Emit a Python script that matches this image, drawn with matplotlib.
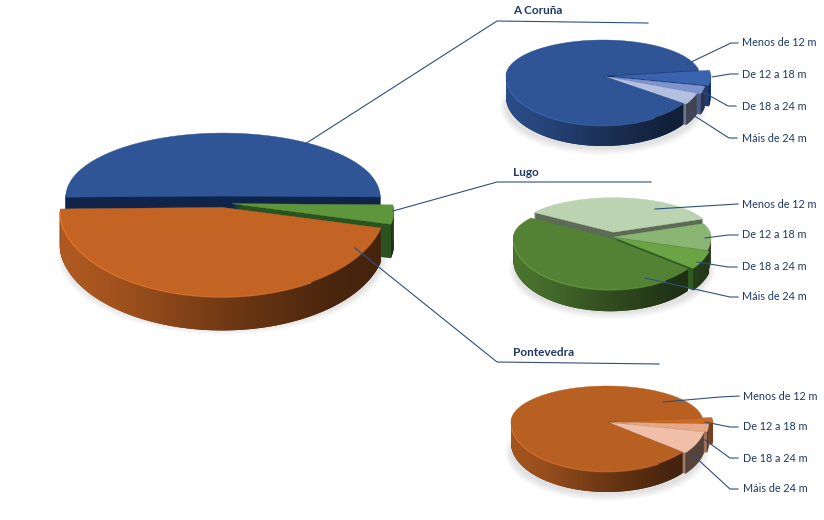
import matplotlib
matplotlib.use('Agg')
import matplotlib.pyplot as plt
import numpy as np
from matplotlib.colors import to_rgb
from matplotlib.patches import Ellipse, Polygon

plt.rcParams['font.family'] = ['Lato', 'DejaVu Sans']

categories = ['Menos de 12 m', 'De 12 a 18 m', 'De 18 a 24 m', 'Máis de 24 m']
provinces = ['A Coruña', 'Lugo', 'Pontevedra']

# share of each province (big pie), clockwise from the blue slice's far end
province_values = [50.5, 3.5, 46.0]
coruna_values = [88.0, 5.6, 2.5, 3.9]
lugo_values = [34.0, 10.5, 6.0, 49.5]
pontevedra_values = [87.5, 2.5, 2.5, 7.5]

INK = '#1f3864'
LINE = '#2f4f7f'

fig, ax = plt.subplots(figsize=(8.24, 5.2), dpi=100)
ax.set_position([0, 0, 1, 1])
layer = [2]


def next_z():
    layer[0] += 1
    return layer[0]


def draw_pie(values, start, cx, cy, rx, back, front, depth, explode, tops, walls, order, widen=0.0):
    wedges, _ = ax.pie(values, startangle=start, counterclock=False, explode=explode, radius=1)
    # soft shadow under the disc
    for grow in range(5):
        ax.add_patch(Ellipse((cx, cy + depth + (front - back) / 2 + 3), 2 * rx + grow * 3,
                             front + back + grow * 3, color='#000000', alpha=0.022, lw=0, zorder=1))

    def warp(x, y):
        # near half is drawn a bit larger than the far half, like the perspective in the picture
        return cx + rx * x * (1 - widen * np.tanh(10 * y)), cy - np.where(y >= 0, y * back, y * front)

    shapes = []
    for w in wedges:
        t = np.radians(np.linspace(w.theta1, w.theta2, 240))
        x0, y0 = w.center
        ax_x, ax_y = x0 + w.r * np.cos(t), y0 + w.r * np.sin(t)
        px, py = warp(ax_x, ax_y)
        ox, oy = warp(np.array([x0]), np.array([y0]))
        shapes.append((px, py, ox[0], oy[0], ax_y))
        w.remove()

    def draw_walls(i):
        px, py, ox, oy, _ = shapes[i]
        xs = np.r_[px, ox]
        ys = np.r_[py, oy]
        for d in range(depth, 0, -1):
            ax.add_patch(Polygon(np.c_[xs, ys + d], fc=walls[i], lw=0, zorder=next_z()))

    draw_walls(order[-1])
    for i in order:
        px, py, ox, oy, uy = shapes[i]
        if i != order[-1]:
            draw_walls(i)
        rgb = np.array(to_rgb(tops[i]))
        # only the part of the rim that faces the viewer gets shaded
        front_part = uy < 0
        if front_part.any():
            # rim shading runs from left to right across the whole disc
            f = np.interp(np.linspace(0, 1, 256), [0, 0.2, 0.5, 0.8, 1], [0.92, 0.82, 0.58, 0.38, 0.34])
            grad = np.clip(f[None, :, None] * rgb, 0, 1)
            im = ax.imshow(grad, extent=(cx - rx * 1.1, cx + rx * 1.1, cy + front * 1.2 + depth, cy - back * 1.2),
                           aspect='auto', interpolation='bilinear', zorder=next_z())
            fx, fy = px[front_part], py[front_part]
            rim = np.r_[np.c_[fx, fy], np.c_[fx[::-1], fy[::-1] + depth]]
            im.set_clip_path(Polygon(rim, transform=ax.transData))
        ax.add_patch(Polygon(np.c_[np.r_[px, ox], np.r_[py, oy]], fc=tops[i], ec=tops[i], lw=0.3, zorder=next_z()))
        # lit bevel on the near edge, left side only
        near = (uy < -0.1) & (px < cx + 0.55 * rx)
        if near.any():
            light = tuple(np.clip(rgb * 1.25 + 0.04, 0, 1))
            ax.plot(px[near], py[near] + 0.6, color=light, lw=1.0, alpha=0.6, zorder=next_z(),
                    solid_capstyle='round')


draw_pie(province_values, 181, 223, 203, 160, 63, 89, 34,
         [0.11, 0.057, 0.05],
         ['#2f5597', '#5d963b', '#c46424'], ['#10244a', '#2c5220', '#5a3010'], [0, 1, 2], widen=0.02)
draw_pie(coruna_values, -34, 603, 76, 97, 36, 49, 21,
         [0, 0.11, 0.07, 0.03],
         ['#2f5597', '#3a64b0', '#7f93cf', '#b4c0e0'], ['#10244a', '#1f3a70', '#4a5a90', '#6c7a90'], [1, 2, 3, 0])
draw_pie(lugo_values, 145, 612, 237, 97, 34.5, 51, 22,
         [0.14, 0.02, 0.04, 0.03],
         ['#bbd3b0', '#8bb573', '#6aa444', '#548235'], ['#5c6b55', '#4f6e3e', '#2f5a20', '#2c4a1c'], [0, 1, 2, 3])
draw_pie(pontevedra_values, -38, 607, 422, 96, 36, 49, 21,
         [0, 0.1, 0.06, 0.03],
         ['#b85f22', '#cc6a25', '#e8a888', '#f1bfa8'], ['#5a3010', '#7a3f14', '#a07058', '#9f7a6b'], [1, 2, 3, 0])

# leader lines
leaders = [
    [(305, 144), (497, 21), (648, 23)],
    [(393, 211), (497, 182), (651, 182)],
    [(355, 248), (497, 362), (659, 364)],
    [(687, 64), (731, 43), (738, 43)],
    [(712, 77), (730, 74), (738, 74)],
    [(703, 92), (728, 106), (736, 106)],
    [(690, 113), (729, 138), (737, 138)],
    [(655, 209), (738, 204)],
    [(705, 238), (728, 235), (738, 235)],
    [(697, 262), (728, 267), (737, 267)],
    [(645, 278), (730, 297), (738, 297)],
    [(663, 402), (720, 397), (739, 396)],
    [(705, 422), (730, 427), (738, 427)],
    [(705, 440), (730, 458), (738, 458)],
    [(693, 455), (730, 489), (738, 489)],
]
for pts in leaders:
    xs, ys = zip(*pts)
    ax.plot(xs, ys, color=LINE, lw=0.8, zorder=next_z())

# labels
for name, y in zip(provinces, [10, 172, 353]):
    ax.text(513, y, name, color=INK, fontsize=8.5, fontweight='bold', va='center', zorder=next_z())

for label_x, label_ys in [(742, [43, 74, 106, 138]), (742, [204, 235, 267, 297]), (743, [396, 427, 458, 489])]:
    for name, y in zip(categories, label_ys):
        ax.text(label_x, y, name, color=INK, fontsize=7.8, va='center', zorder=next_z())

ax.set_aspect('auto')
ax.set_xlim(0, 824)
ax.set_ylim(520, 0)
ax.axis('off')
fig.savefig('out.png', dpi=100)
